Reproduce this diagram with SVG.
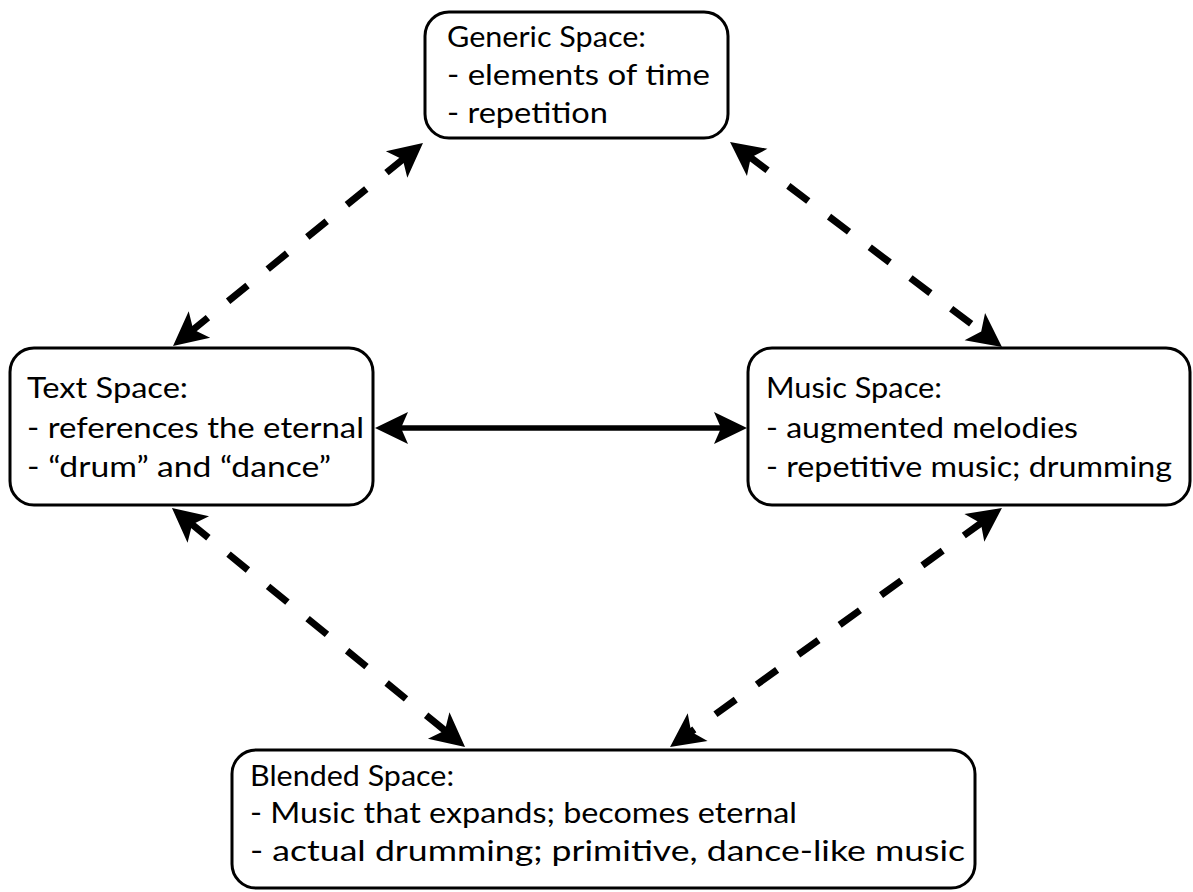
<svg xmlns="http://www.w3.org/2000/svg" width="1193" height="892" viewBox="0 0 1193 892">
<style>
.box{fill:#fff;stroke:#000;stroke-width:3}
.t{font-family:Lato,"Open Sans","DejaVu Sans",sans-serif;font-size:29px;fill:#000}
.dash{fill:none;stroke:#000;stroke-width:7;stroke-dasharray:25 26;marker-start:url(#hd);marker-end:url(#hd)}
.solid{fill:none;stroke:#000;stroke-width:5.5;marker-start:url(#hs);marker-end:url(#hs)}
</style>
<defs>
<marker id="hd" markerUnits="userSpaceOnUse" refX="0" refY="0" markerWidth="80" markerHeight="80" orient="auto-start-reverse" overflow="visible">
<path d="M22 0 L-12 -17 L-4 0 L-12 17 Z" fill="#000"/>
</marker>
<marker id="hs" markerUnits="userSpaceOnUse" refX="0" refY="0" markerWidth="80" markerHeight="80" orient="auto-start-reverse" overflow="visible">
<path d="M26 0 L-7 -16 L0 0 L-7 16 Z" fill="#000"/>
</marker>
</defs>
<rect width="1193" height="892" fill="#fff"/>
<g id="connectors">
<path class="dash" d="M405.9 156.9 L190.1 332.1"/>
<path class="dash" d="M747.6 155.2 L984.4 333.8"/>
<path class="dash" d="M189 521.9 L448 733.1"/>
<path class="dash" d="M984.1 520.9 L687.9 734.1"/>
<path class="solid" d="M401 428 L721 428"/>
</g>
<g id="generic">
<rect class="box" x="425" y="12" width="303" height="126" rx="24"/>
<text class="t" x="447" y="47" textLength="199" lengthAdjust="spacingAndGlyphs">Generic Space:</text>
<text class="t" x="447" y="85" textLength="263" lengthAdjust="spacingAndGlyphs">- elements of time</text>
<text class="t" x="447" y="123" textLength="161" lengthAdjust="spacingAndGlyphs">- repetition</text>
</g>
<g id="text">
<rect class="box" x="10" y="348" width="363" height="157" rx="24"/>
<text class="t" x="27" y="398" textLength="161" lengthAdjust="spacingAndGlyphs">Text Space:</text>
<text class="t" x="27" y="438" textLength="337" lengthAdjust="spacingAndGlyphs">- references the eternal</text>
<text class="t" x="27" y="477" textLength="304" lengthAdjust="spacingAndGlyphs">- “drum” and “dance”</text>
</g>
<g id="music">
<rect class="box" x="748" y="348" width="442" height="157" rx="24"/>
<text class="t" x="766" y="398" textLength="176" lengthAdjust="spacingAndGlyphs">Music Space:</text>
<text class="t" x="766" y="438" textLength="312" lengthAdjust="spacingAndGlyphs">- augmented melodies</text>
<text class="t" x="766" y="477" textLength="406" lengthAdjust="spacingAndGlyphs">- repetitive music; drumming</text>
</g>
<g id="blended">
<rect class="box" x="232" y="750" width="743" height="138" rx="24"/>
<text class="t" x="250" y="786" textLength="204" lengthAdjust="spacingAndGlyphs">Blended Space:</text>
<text class="t" x="250" y="823" textLength="547" lengthAdjust="spacingAndGlyphs">- Music that expands; becomes eternal</text>
<text class="t" x="250" y="861" textLength="715" lengthAdjust="spacingAndGlyphs">- actual drumming; primitive, dance-like music</text>
</g>
</svg>
